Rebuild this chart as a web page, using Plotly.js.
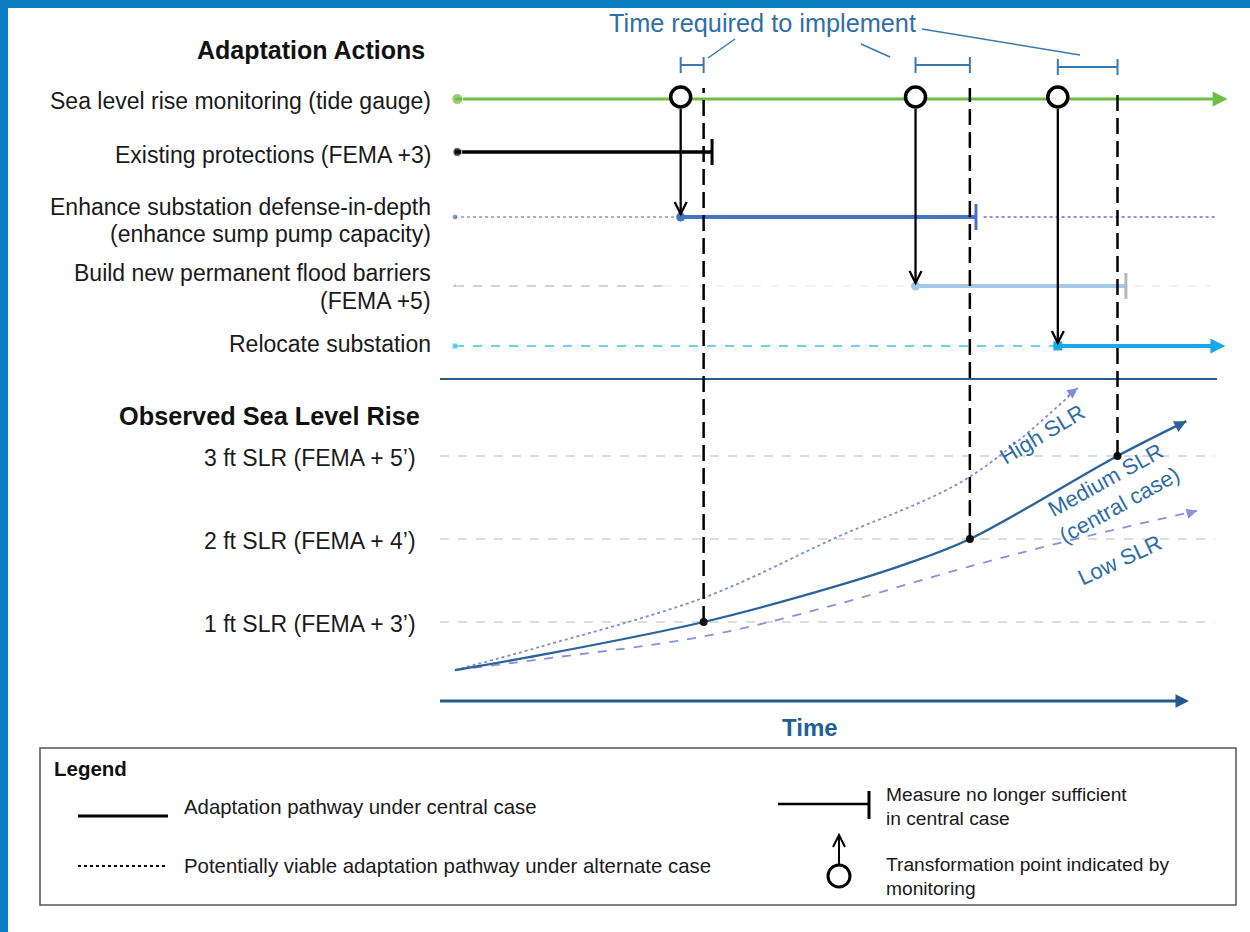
<!DOCTYPE html>
<html><head><meta charset="utf-8">
<script src="https://cdn.plot.ly/plotly-3.0.1.min.js"></script>
<style>html,body{margin:0;padding:0;background:#fff;}#chart{width:1250px;height:932px;}</style>
</head><body><div id="chart"></div>
<script>
// ---------------- DATA ----------------
const actionLabels = [
  "Sea level rise monitoring (tide gauge)",
  "Existing protections (FEMA +3)",
  "Enhance substation defense-in-depth<br>(enhance sump pump capacity)",
  "Build new permanent flood barriers<br>(FEMA +5)",
  "Relocate substation"
];
const transformTimes = [29.5, 60.2, 78.8];        // transformation points indicated by monitoring
const implementTimes = [32.5, 67.3, 86.6];        // end of time required to implement
const triggeredAction = [2, 3, 4];                 // action started at each transformation point
const sufficientUntil = [null, 33.6, 68.1, 87.7, null]; // measure no longer sufficient
const slrLevels = [1, 2, 3];
const slrLabels = ["1 ft SLR (FEMA + 3’)", "2 ft SLR (FEMA + 4’)", "3 ft SLR (FEMA + 5’)"];
const timeMedium = [0, 11.1, 32.5, 49.4, 59, 67.3, 86.6, 95.6];
const slrMedium  = [0.42, 0.60, 1.0, 1.42, 1.70, 2.0, 3.0, 3.42];
const timeHigh = [0, 11.1, 32.7, 49.4, 67.3, 81.4];
const slrHigh  = [0.42, 0.70, 1.30, 2.0, 2.75, 3.82];
const timeLow = [0, 11.1, 32.7, 49.4, 67.3, 82, 97];
const slrLow  = [0.42, 0.55, 0.83, 1.2, 1.67, 2.02, 2.34];
const curveNames = ["High SLR", "Medium SLR<br>(central case)", "Low SLR"];
const timeEnd = 101;

// ---------------- LAYOUT CONSTANTS ----------------
const W = 1250, H = 932;
const T0_PX = 455, PX_PER_T = 7.65;
const FT0_PX = 705, PX_PER_FT = 83;
const ROW_Y = [99, 152, 217, 286, 346];
const FONT = "Liberation Sans, Arial, sans-serif";
const GREEN = "#6dbd45";
const tPx = x => (x - T0_PX) / PX_PER_T;
const ftPx = y => (FT0_PX - y) / PX_PER_FT;
const px = x => x / W, py = y => 1 - y / H;

const traces = [], shapes = [], annotations = [];
function seg(x, y, color, width, dash, yaxis, shape) {
  traces.push({type: 'scatter', mode: 'lines', x: x, y: y, yaxis: yaxis || 'y',
    line: {color: color, width: width, dash: dash || 'solid', shape: shape || 'linear', smoothing: 1.0}, hoverinfo: 'skip'});
}
function arrow(x, y, ax, ay, color, width, size, yref) {
  annotations.push({x: x, y: y, ax: ax, ay: ay, xref: 'x', yref: yref || 'y', axref: 'x', ayref: yref || 'y',
    text: '', showarrow: true, arrowhead: 2, arrowsize: size || 1, arrowwidth: width, arrowcolor: color, standoff: 0});
}
function vhead(xref, yref, x, y, dir, color, w) {
  const a = 12 * dir;
  shapes.push({type: 'path', xref: xref, yref: yref, xsizemode: 'pixel', ysizemode: 'pixel',
    xanchor: x, yanchor: y, path: `M -6 ${a} L 0 0 L 6 ${a}`, line: {color: color, width: w}});
}
function txt(text, xPx, yPx, o) {
  annotations.push(Object.assign({xref: 'paper', yref: 'paper', x: px(xPx), y: py(yPx), text: text,
    showarrow: false, xanchor: 'left', yanchor: 'middle',
    font: {family: FONT, size: 19.5, color: '#1a1a1a'}}, o || {}));
}

// frame
shapes.push({type: 'rect', xref: 'paper', yref: 'paper', x0: 0, x1: px(8), y0: 0, y1: 1, fillcolor: '#0b7dc1', line: {width: 0}, layer: 'below'});
shapes.push({type: 'rect', xref: 'paper', yref: 'paper', x0: 0, x1: 1, y0: py(8), y1: 1, fillcolor: '#0b7dc1', line: {width: 0}, layer: 'below'});

// SLR gridlines
slrLevels.forEach(l => seg([tPx(440), tPx(1215)], [l, l], '#d2d2d2', 1.5, 'dash', 'y2'));

// ---- Adaptation action rows ----
seg([0, timeEnd - 1.5], [ROW_Y[0], ROW_Y[0]], GREEN, 3);
arrow(timeEnd, ROW_Y[0], timeEnd - 2, ROW_Y[0], GREEN, 3, 1);
seg([0, sufficientUntil[1]], [ROW_Y[1], ROW_Y[1]], '#000', 3.5);
seg([0, transformTimes[0]], [ROW_Y[2], ROW_Y[2]], '#8a96c8', 1.5, 'dot');
seg([transformTimes[0], sufficientUntil[2]], [ROW_Y[2], ROW_Y[2]], '#4472c4', 4);
seg([sufficientUntil[2] + 1, tPx(1215)], [ROW_Y[2], ROW_Y[2]], '#8b8de6', 2, 'dot');
seg([0, tPx(662)], [ROW_Y[3], ROW_Y[3]], '#c4c4c4', 1.5, 'dash');
seg([tPx(662), transformTimes[1]], [ROW_Y[3], ROW_Y[3]], '#f0f0f0', 1.5, 'dash');
seg([transformTimes[1], sufficientUntil[3]], [ROW_Y[3], ROW_Y[3]], '#a4c8e8', 4);
seg([sufficientUntil[3] + 1, tPx(1210)], [ROW_Y[3], ROW_Y[3]], '#ececec', 1.5, 'dash');
seg([0, transformTimes[2]], [ROW_Y[4], ROW_Y[4]], '#3cc4e4', 1.3, 'dash');
seg([transformTimes[2], timeEnd - 2], [ROW_Y[4], ROW_Y[4]], '#19a9e9', 4);
arrow(timeEnd - 0.3, ROW_Y[4], timeEnd - 2.5, ROW_Y[4], '#19a9e9', 3, 1);

// "no longer sufficient" end ticks
[[1, '#000'], [2, '#4a70c2'], [3, '#b8b8b8']].forEach(([r, c]) => {
  shapes.push({type: 'line', xref: 'x', yref: 'y', x0: sufficientUntil[r], x1: sufficientUntil[r],
    y0: ROW_Y[r] - 13, y1: ROW_Y[r] + 13, line: {color: c, width: 3}});
});

// start markers
traces.push({type: 'scatter', mode: 'markers', x: [0.3, 0.3, 0, 0, 0], y: ROW_Y, hoverinfo: 'skip',
  marker: {symbol: ['circle', 'circle', 'circle', 'triangle-up', 'square'], size: [11, 9, 6, 6, 6],
    color: [GREEN, '#000', '#5a6fb0', '#bbbbbb', '#2cc0e8']}});
traces.push({type: 'scatter', mode: 'markers', x: transformTimes, y: triggeredAction.map(r => ROW_Y[r]), hoverinfo: 'skip',
  marker: {symbol: ['circle', 'circle', 'square'], size: 9, color: ['#4472c4', '#a4c8e8', '#19a9e9']}});

// arrows from transformation points down to triggered actions
transformTimes.forEach((t, i) => {
  const yEnd = ROW_Y[triggeredAction[i]] - 3;
  seg([t, t], [ROW_Y[0] + 10, yEnd], '#000', 2.3);
  vhead('x', 'y', t, yEnd, 1, '#000', 2.3);
});
// transformation circles
traces.push({type: 'scatter', mode: 'markers', x: transformTimes, y: transformTimes.map(() => ROW_Y[0] - 2), hoverinfo: 'skip',
  marker: {symbol: 'circle', size: 20, color: '#fff', line: {color: '#000', width: 3.5}}});

// time required to implement bars
const barY = [65, 65, 67];
transformTimes.forEach((t, i) => {
  const c = '#3a78b0';
  shapes.push({type: 'line', xref: 'x', yref: 'y', x0: t, x1: implementTimes[i], y0: barY[i], y1: barY[i], line: {color: c, width: 2}});
  [t, implementTimes[i]].forEach(x => shapes.push({type: 'line', xref: 'x', yref: 'y', x0: x, x1: x, y0: barY[i] - 8, y1: barY[i] + 8, line: {color: c, width: 2}}));
});
[[735, 39, 708, 58], [861, 44, 890, 57], [922, 29, 1080, 55]].forEach(([a, b, c, d]) =>
  shapes.push({type: 'line', xref: 'paper', yref: 'paper', x0: px(a), y0: py(b), x1: px(c), y1: py(d), line: {color: '#3a78b0', width: 1.5}}));
txt('Time required to implement', 762, 23, {xanchor: 'center', font: {family: FONT, size: 25.3, color: '#2f6ea8'}});

// dashed implementation lines down to medium SLR curve
implementTimes.forEach((t, i) => {
  shapes.push({type: 'line', xref: 'x', yref: 'y2', x0: t, x1: t, y0: slrLevels[i], y1: ftPx(88),
    line: {color: '#000', width: 2.5, dash: '16px,7px'}});
});

// separator
seg([tPx(440), tPx(1217)], [379, 379], '#2a5b8c', 2);

// SLR curves
seg(timeHigh, slrHigh, '#7f8cd6', 1.8, 'dot', 'y2', 'spline');
seg(timeLow, slrLow, '#8a90dc', 1.8, 'dash', 'y2', 'spline');
seg(timeMedium, slrMedium, '#2b6299', 2.3, 'solid', 'y2', 'spline');
const nH = timeHigh.length - 1, nL = timeLow.length - 1, nM = timeMedium.length - 1;
arrow(timeHigh[nH], slrHigh[nH], timeHigh[nH] - 1.5, slrHigh[nH] - 0.11, '#7f8cd6', 1.5, 1.4, 'y2');
arrow(timeLow[nL], slrLow[nL], timeLow[nL] - 1.5, slrLow[nL] - 0.04, '#8a90dc', 1.5, 1.4, 'y2');
arrow(timeMedium[nM], slrMedium[nM], timeMedium[nM] - 1.5, slrMedium[nM] - 0.07, '#2b6299', 2, 1.2, 'y2');
traces.push({type: 'scatter', mode: 'markers', x: implementTimes, y: slrLevels, yaxis: 'y2', hoverinfo: 'skip',
  marker: {size: 8, color: '#111'}});

// curve labels
const lblPos = [[tPx(1042), ftPx(434), -31], [tPx(1112), ftPx(493), -29], [tPx(1119), ftPx(560), -25]];
curveNames.forEach((n, i) => annotations.push({xref: 'x', yref: 'y2', x: lblPos[i][0], y: lblPos[i][1], text: n,
  textangle: lblPos[i][2], showarrow: false, xanchor: 'center', yanchor: 'middle',
  font: {family: FONT, size: 22, color: '#2e6da4'}}));

// time axis
seg([tPx(440), tPx(1176)], [701, 701], '#24578c', 3);
arrow(tPx(1189), 701, tPx(1176), 701, '#24578c', 3, 0.9);
txt('<b>Time</b>', 810, 727, {xanchor: 'center', font: {family: FONT, size: 24, color: '#1f5f99'}});

// titles and labels
txt('<b>Adaptation Actions</b>', 427, 50, {xanchor: 'right', font: {family: FONT, size: 25, color: '#111'}});
txt('<b>Observed Sea Level Rise</b>', 422, 416, {xanchor: 'right', font: {family: FONT, size: 25.3, color: '#111'}});
const labelLines = [[101], [155], [207, 234], [273, 301], [344]];
actionLabels.forEach((l, i) => l.split('<br>').forEach((part, j) =>
  txt(part, 433, labelLines[i][j], {xanchor: 'right', font: {family: FONT, size: 23, color: '#1a1a1a'}})));
slrLabels.forEach((l, i) => annotations.push({xref: 'paper', yref: 'y2', x: px(418), y: slrLevels[i], yshift: -2,
  text: l, showarrow: false, xanchor: 'right', yanchor: 'middle', font: {family: FONT, size: 23, color: '#1a1a1a'}}));

// legend box
const LF = {family: FONT, size: 20.4, color: '#1a1a1a'}, RF = {family: FONT, size: 19.2, color: '#1a1a1a'};
shapes.push({type: 'rect', xref: 'paper', yref: 'paper', x0: px(40), x1: px(1236), y0: py(905), y1: py(748), line: {color: '#555', width: 1.5}});
txt('<b>Legend</b>', 52, 768, {font: {family: FONT, size: 20.5, color: '#111'}});
shapes.push({type: 'line', xref: 'paper', yref: 'paper', x0: px(78), x1: px(168), y0: py(816), y1: py(816), line: {color: '#000', width: 3}});
txt('Adaptation pathway under central case', 182, 807, {font: LF});
shapes.push({type: 'line', xref: 'paper', yref: 'paper', x0: px(78), x1: px(165), y0: py(866), y1: py(866), line: {color: '#000', width: 2, dash: 'dot'}});
txt('Potentially viable adaptation pathway under alternate case', 182, 866, {font: LF});
shapes.push({type: 'line', xref: 'paper', yref: 'paper', x0: px(778), x1: px(868), y0: py(804), y1: py(804), line: {color: '#000', width: 2.5}});
shapes.push({type: 'line', xref: 'paper', yref: 'paper', x0: px(869), x1: px(869), y0: py(791), y1: py(819), line: {color: '#000', width: 3}});
txt('Measure no longer sufficient', 884, 794, {font: RF});
txt('in central case', 884, 818, {font: RF});
shapes.push({type: 'line', xref: 'paper', yref: 'paper', x0: px(839), x1: px(839), y0: py(864), y1: py(836), line: {color: '#000', width: 2}});
vhead('paper', 'paper', px(839), py(835), -1, '#000', 2);
shapes.push({type: 'circle', xref: 'paper', yref: 'paper', x0: px(828), x1: px(850), y0: py(887), y1: py(865), line: {color: '#000', width: 3}});
txt('Transformation point indicated by', 884, 864, {font: RF});
txt('monitoring', 884, 888, {font: RF});

const layout = {
  width: W, height: H, autosize: false, showlegend: false,
  margin: {l: 0, r: 0, t: 0, b: 0, pad: 0},
  paper_bgcolor: '#fff', plot_bgcolor: '#fff',
  xaxis: {range: [tPx(0), tPx(W)], visible: false, fixedrange: true},
  yaxis: {range: [H, 0], visible: false, fixedrange: true},
  yaxis2: {range: [ftPx(H), ftPx(0)], overlaying: 'y', visible: false, fixedrange: true},
  shapes: shapes, annotations: annotations
};
Plotly.newPlot('chart', traces, layout, {staticPlot: true, displayModeBar: false});
</script></body></html>
